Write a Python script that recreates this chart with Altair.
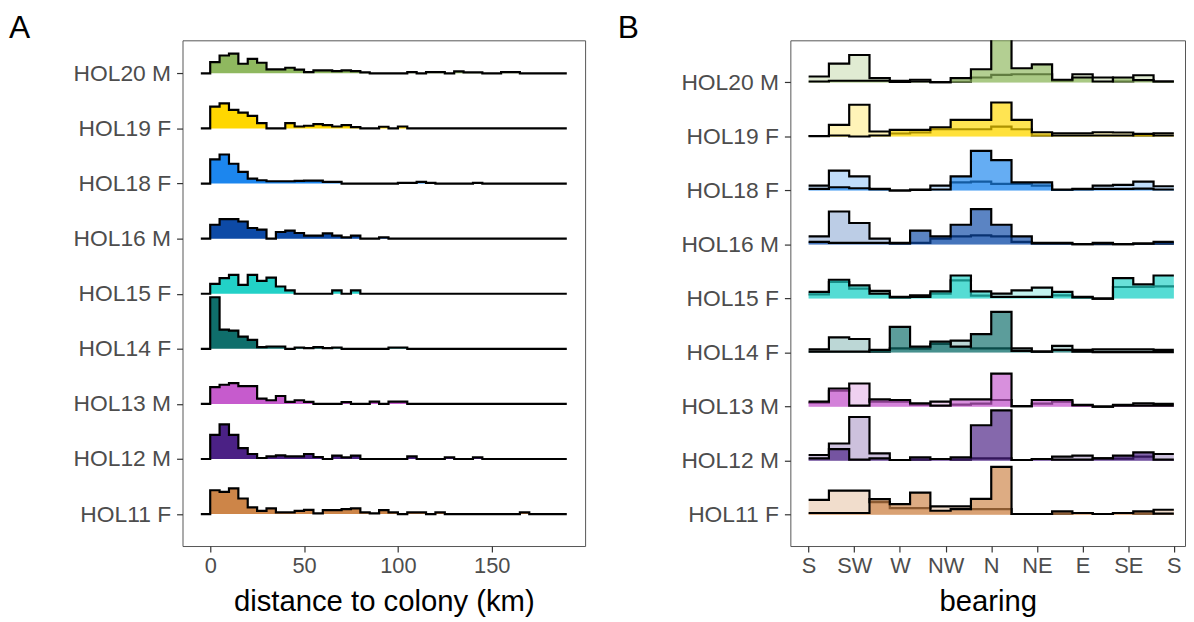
import altair as alt
import pandas as pd

# ---------------- data ----------------
names = ["HOL11 F", "HOL12 M", "HOL13 M", "HOL14 F", "HOL15 F",
         "HOL16 M", "HOL18 F", "HOL19 F", "HOL20 M"]
colors = ["#CD8548", "#4B2185", "#C65BCD", "#0F6E6B", "#22D1C7",
          "#0D4AA6", "#1C86EE", "#FFD700", "#8FB85F"]

# Panel A: distance to colony histograms (5 km bins starting at 0 km)
dist_bin = 5
dist_HOL11 = [24, 22.3, 26, 15.7, 6.7, 3.3, 5.7, 1.7, 1.7, 3.3, 4.3, 0.7, 4, 4, 5, 5.7, 1.7, 0.7, 4, 1.7,
              0, 1.7, 1.7, 0, 1.7, 0, 0, 0, 0, 0, 0, 0, 0, 1.7, 0, 0, 0, 0]
dist_HOL12 = [24.3, 35, 24.3, 11, 5, 1, 2.7, 3.7, 2.7, 2.7, 5, 2, 0, 3.3, 1.7, 3.3, 0, 0, 0, 0,
              0, 2.7, 0, 0, 0, 1.7, 0, 0, 1.7, 0, 0, 0, 0, 0, 0, 0, 0, 0]
dist_HOL13 = [17, 19.3, 21, 18, 18, 5.3, 3.7, 8, 2, 3.7, 2, 0, 0, 0, 1.7, 0, 0, 2.3, 0, 2.3,
              2.3, 0, 0, 0, 0, 0, 0, 0, 0, 0, 0, 0, 0, 0, 0, 0, 0, 0]
dist_HOL14 = [52, 19.3, 18.3, 12.3, 9, 1.7, 2.3, 2.3, 0, 1.3, 0.7, 1.7, 0.7, 1.3, 0, 0, 0, 0, 0, 1.3,
              1.3, 0, 0, 0, 0, 0, 0, 0, 0, 0, 0, 0, 0, 0, 0, 0, 0, 0]
dist_HOL15 = [10, 15.7, 19, 9, 19, 13, 16.3, 7.3, 3.3, 0, 0, 0, 0, 3.3, 0, 3.3, 0, 0, 0, 0,
              0, 0, 0, 0, 0, 0, 0, 0, 0, 0, 0, 0, 0, 0, 0, 0, 0, 0]
dist_HOL16 = [14, 19.7, 19.7, 17.3, 10.7, 9, 0, 6.7, 8, 5.7, 3, 3, 5.3, 3, 1.3, 3, 0, 0, 1.3, 0,
              0, 0, 0, 0, 0, 0, 0, 0, 0, 0, 0, 0, 0, 0, 0, 0, 0, 0]
dist_HOL18 = [24.3, 29.3, 20, 11.7, 5, 3.3, 2.3, 2.3, 2.3, 2.7, 3, 3, 1.7, 1.7, 0, 0, 0, 0, 0, 0,
              0.7, 0.7, 1.7, 0.7, 0, 0, 0, 0, 0.7, 0, 0, 0, 0, 0, 0, 0, 0, 0]
dist_HOL19 = [22, 25.3, 18.7, 16, 12.7, 5.3, 0, 0, 5.3, 2, 2.7, 4.3, 3.3, 2, 3.3, 1.3, 0, 0, 1.7, 0,
              2, 0, 0, 0, 0, 0, 0, 0, 0, 0, 0, 0, 0, 0, 0, 0, 0, 0]
dist_HOL20 = [11.3, 18, 20, 9.7, 14.7, 10.7, 4, 4, 5.7, 3.7, 1.3, 3, 3, 2.3, 3, 2.3, 1, 0, 0, 0,
              0, 1.3, 0, 1.3, 1.3, 0, 2, 1, 1, 0, 0, 1.3, 1.3, 0, 0, 0, 0, 0]
dist_values = [dist_HOL11, dist_HOL12, dist_HOL13, dist_HOL14, dist_HOL15,
               dist_HOL16, dist_HOL18, dist_HOL19, dist_HOL20]

# Panel B: bearing histograms (20 degree bins from -180), two groups per bird
bear_bin = 20
bear_pale_HOL11 = [15, 24.3, 24.3, 12.7, 6.7, 6.7, 8.3, 8.3, 5.7, 5.7, 0.7, 0.7, 1, 1.7, 0.7, 1.7, 1, 5]
bear_main_HOL11 = [1.7, 1.7, 1.7, 15.7, 10.7, 22.3, 4, 5.7, 16, 48.3, 0.7, 0.7, 3.3, 1.7, 0.7, 1.7, 3.3, 1]
bear_pale_HOL12 = [5.7, 17.3, 44, 7.3, 0.7, 1, 1.7, 1, 2.3, 2.3, 0.7, 1.7, 4, 5, 2.3, 2, 4, 6.7]
bear_main_HOL12 = [2.3, 11.7, 1, 2.3, 0.7, 3.3, 1.7, 3.3, 35.7, 50.7, 0.7, 1.7, 1, 1, 2.3, 5, 8.3, 1]
bear_pale_HOL13 = [4, 16, 23.3, 5, 5, 2, 5, 2, 3, 6.7, 0.5, 3, 5, 1, 0, 1.7, 3.3, 2.7]
bear_main_HOL13 = [5, 18.3, 1, 7.3, 6.7, 3.3, 1, 7.3, 7.3, 33.3, 0.5, 6.7, 6.7, 1.7, 0, 1, 1, 1]
bear_pale_HOL14 = [3.3, 15.3, 13.7, 1, 4.3, 4, 8.7, 12, 4.3, 4.3, 4.3, 1, 6.7, 2.7, 3.3, 3.3, 3.3, 2.7]
bear_main_HOL14 = [1, 1, 1, 2.7, 26, 6, 11, 6, 18.7, 41, 1.7, 1, 2.7, 1, 0.5, 0.5, 0.5, 0.5]
bear_pale_HOL15 = [4.3, 16.7, 10, 7.7, 1, 3.3, 5, 18.3, 3, 5, 8.3, 11, 3.3, 1, 0, 11.7, 11.7, 12.3]
bear_main_HOL15 = [6.7, 19, 13.3, 5, 1.7, 1.7, 7.3, 23.3, 7.3, 1.7, 1.7, 1.7, 6.7, 1.7, 0, 20.7, 14.3, 23.3]
bear_pale_HOL16 = [8.3, 33.3, 21.7, 6, 1, 1.7, 6, 8.3, 9.3, 8.3, 2.7, 1, 1, 0.5, 0.5, 0.5, 1, 1]
bear_main_HOL16 = [2.7, 1.7, 1.7, 1.7, 1.7, 14, 8.3, 20, 35.7, 20, 8.3, 1.7, 1.7, 0.5, 1.7, 0.5, 1, 2.7]
bear_pale_HOL18 = [5, 20, 14.3, 1, 0, 1, 5, 8.3, 9, 6.7, 6.7, 5, 0.5, 1, 5, 5.7, 9, 4.3]
bear_main_HOL18 = [1.7, 3.3, 2.3, 1.7, 0, 0.5, 1, 14.3, 40, 30.7, 8.3, 8.3, 1, 1.7, 1.7, 1.7, 2, 1]
bear_pale_HOL19 = [0.5, 11.7, 32, 5, 3, 4, 7.3, 7.3, 7.3, 10, 7.3, 1, 3.3, 3.3, 4.3, 4, 1, 3.3]
bear_main_HOL19 = [0.3, 1, 0, 1, 6.7, 6.7, 9.3, 16.7, 16.7, 34.3, 16.7, 4.3, 1, 1, 1, 1, 2.7, 1]
bear_pale_HOL20 = [6, 19, 27.7, 4.3, 1.7, 2.7, 0.3, 0.7, 5, 7.7, 8.3, 8.3, 1.7, 8.3, 5, 1, 7.3, 1]
bear_main_HOL20 = [1, 1.7, 1.7, 1.7, 0.5, 1, 0.3, 4.3, 13.3, 48, 14.3, 18.3, 2.7, 5, 1, 5, 2.3, 1]
bear_pale = [bear_pale_HOL11, bear_pale_HOL12, bear_pale_HOL13, bear_pale_HOL14, bear_pale_HOL15,
             bear_pale_HOL16, bear_pale_HOL18, bear_pale_HOL19, bear_pale_HOL20]
bear_main = [bear_main_HOL11, bear_main_HOL12, bear_main_HOL13, bear_main_HOL14, bear_main_HOL15,
             bear_main_HOL16, bear_main_HOL18, bear_main_HOL19, bear_main_HOL20]

dist_ticks = [0, 50, 100, 150]
bear_ticks = [-180, -135, -90, -45, 0, 45, 90, 135, 180]
compass = ["S", "SW", "W", "NW", "N", "NE", "E", "SE", "S"]

# ---------------- tables ----------------
rows_a = []
for i, (n, h) in enumerate(zip(names, dist_values), start=1):
    xs = [-dist_bin] + [k * dist_bin for k in range(len(h))] + [len(h) * dist_bin]
    hs = [0] + list(h) + [0]
    for x, v in zip(xs, hs):
        rows_a.append({"ind": n, "idx": i, "x": x, "h": v})
dfA = pd.DataFrame(rows_a)

rows_b = []
for i, n in enumerate(names, start=1):
    for grp, vals in (("pale", bear_pale[i - 1]), ("main", bear_main[i - 1])):
        xs = [-180 + k * bear_bin for k in range(len(vals))] + [180]
        hs = list(vals) + [vals[-1]]
        for x, v in zip(xs, hs):
            rows_b.append({"ind": n, "idx": i, "grp": grp, "x": x, "h": v})
dfB = pd.DataFrame(rows_b)

FONT = "Liberation Sans"
LW = 2.2
name_expr = "[" + ",".join("'%s'" % n for n in names) + "][round(datum.value) - 1]"
compass_expr = "[" + ",".join("'%s'" % c for c in compass) + "][round((datum.value + 180) / 45)]"

# ---------------- panel A ----------------
xA = alt.X("x:Q", scale=alt.Scale(domain=[-14.75, 199.75], nice=False, zero=False),
           axis=alt.Axis(values=dist_ticks, title="distance to colony (km)",
                         labelFlush=False, labelOverlap=False))
yA = alt.Y("top:Q", scale=alt.Scale(domain=[0.42, 9.6], nice=False, zero=False),
           axis=alt.Axis(values=list(range(1, 10)), labelExpr=name_expr, title=None,
                         minExtent=175, labelOverlap=False, labelFlush=False,
                         labelFontSize=23, labelPadding=6))
scaleA = 55.56

layersA = []
for i in range(len(names), 0, -1):
    n = names[i - 1]
    base = alt.Chart(dfA).transform_filter(alt.datum.ind == n).transform_calculate(
        top="datum.idx + datum.h / %f" % scaleA)
    layersA.append(base.mark_area(interpolate="step-after", color=colors[i - 1], clip=True)
                   .encode(x=xA, y=yA, y2="idx:Q"))
    layersA.append(base.mark_line(interpolate="step-after", color="black", strokeWidth=LW, clip=True)
                   .encode(x=xA, y=yA))

chartA = alt.layer(*layersA).properties(
    width=406, height=510,
    title=alt.TitleParams("A", anchor="start", frame="bounds", fontSize=32, fontWeight="normal",
                          font=FONT, color="black", offset=-30, baseline="alphabetic"))

# ---------------- panel B ----------------
xB = alt.X("x:Q", scale=alt.Scale(domain=[-198, 191], nice=False, zero=False),
           axis=alt.Axis(values=bear_ticks, labelExpr=compass_expr, title="bearing",
                         labelFlush=False, labelOverlap=False))
yB = alt.Y("top:Q", scale=alt.Scale(domain=[0.42, 9.78], nice=False, zero=False),
           axis=alt.Axis(values=list(range(1, 10)), labelExpr=name_expr, title=None,
                         minExtent=174, labelOverlap=False, labelFlush=False,
                         labelFontSize=23, labelPadding=6))
scaleB = 54.49

layersB = []
for i in range(len(names), 0, -1):
    n = names[i - 1]
    for grp, op in (("pale", 0.28), ("main", 0.68)):
        base = alt.Chart(dfB).transform_filter(
            (alt.datum.ind == n) & (alt.datum.grp == grp)).transform_calculate(
            top="datum.idx + datum.h / %f" % scaleB)
        layersB.append(base.mark_area(interpolate="step-after", color=colors[i - 1],
                                      opacity=op, clip=True)
                       .encode(x=xB, y=yB, y2="idx:Q"))
        layersB.append(base.mark_line(interpolate="step-after", color="black",
                                      strokeWidth=LW, clip=True)
                       .encode(x=xB, y=yB))

chartB = alt.layer(*layersB).properties(
    width=398, height=510,
    title=alt.TitleParams("B", anchor="start", frame="bounds", fontSize=32, fontWeight="normal",
                          font=FONT, color="black", offset=-30, baseline="alphabetic"))

chart = alt.hconcat(chartA, chartB, spacing=31).properties(
    padding={"left": 0, "top": 1, "right": 0, "bottom": 0}
).configure_axis(
    labelFont=FONT, labelFontSize=22, labelColor="#4d4d4d",
    tickColor="#333333", tickSize=6, tickWidth=1.2, domain=False, grid=False,
    labelPadding=4, titleFont=FONT, titleFontSize=29.5, titleFontWeight="normal",
    titleColor="black", titlePadding=11
).configure_view(stroke="#555555", strokeWidth=1)

chart.save("out.html", embed_options={"renderer": "svg", "actions": False})
